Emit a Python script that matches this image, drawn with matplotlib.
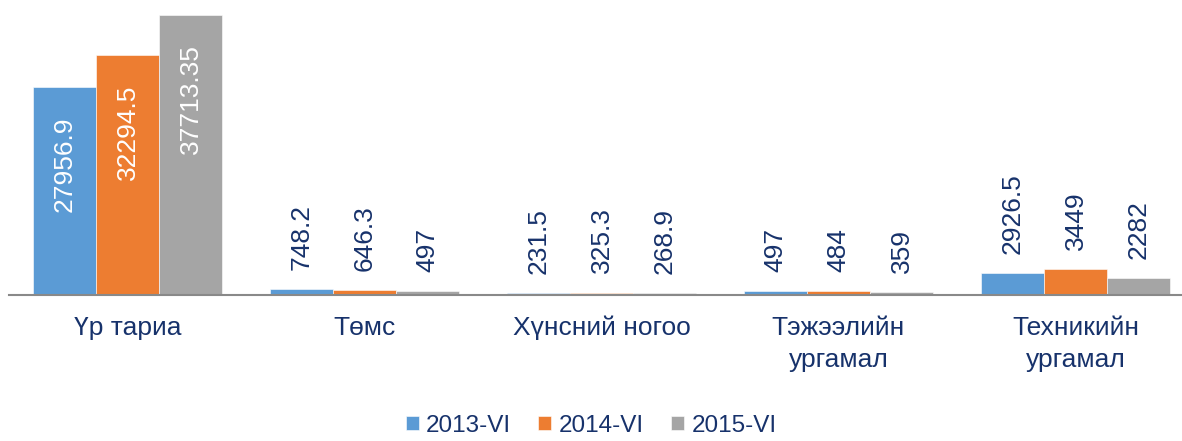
import matplotlib
matplotlib.use("Agg")
import matplotlib.pyplot as plt
import numpy as np

plt.rcParams['font.family'] = ['Liberation Sans', 'DejaVu Sans']

categories = ['Үр тариа', 'Төмс', 'Хүнсний ногоо', 'Тэжээлийн\nургамал', 'Техникийн\nургамал']
series_names = ['2013-VI', '2014-VI', '2015-VI']
v2013 = [27956.9, 748.2, 231.5, 497, 2926.5]
v2014 = [32294.5, 646.3, 325.3, 484, 3449]
v2015 = [37713.35, 497, 268.9, 359, 2282]
labels2013 = ['27956.9', '748.2', '231.5', '497', '2926.5']
labels2014 = ['32294.5', '646.3', '325.3', '484', '3449']
labels2015 = ['37713.35', '497', '268.9', '359', '2282']

colors = ['#5B9BD5', '#ED7D31', '#A5A5A5']
text_color = '#17326B'

fig = plt.figure(figsize=(11.82, 4.41), dpi=100)
ax = fig.add_axes([9 / 1182, 146 / 441, 1185 / 1182, 290 / 441])

x = np.arange(len(categories))
w = 0.266
all_vals = [v2013, v2014, v2015]
all_labels = [labels2013, labels2014, labels2015]
inside_limit = 10000

for i, (vals, labs) in enumerate(zip(all_vals, all_labels)):
    xs = x + (i - 1) * w
    ax.bar(xs, vals, width=w, color=colors[i], label=series_names[i],
           edgecolor='white', linewidth=0.4, zorder=2)
    for xi, v, t in zip(xs, vals, labs):
        if v > inside_limit:
            ax.annotate(t, (xi, v), xytext=(0, -21), textcoords='offset points',
                        rotation=90, ha='center', va='top', color='white',
                        fontsize=19)
        else:
            ax.annotate(t, (xi, v), xytext=(0, 14), textcoords='offset points',
                        rotation=90, ha='center', va='bottom', color=text_color,
                        fontsize=19)

ax.set_xlim(-0.5, len(categories) - 0.5)
ax.set_ylim(0, 37713.35 * 290 / 280)
ax.set_xticks(x)
ax.set_xticklabels(categories, fontsize=19, color=text_color, linespacing=1.45)
ax.tick_params(axis='x', length=0, pad=15)
ax.set_yticks([])
for s in ['top', 'right', 'left']:
    ax.spines[s].set_visible(False)
ax.spines['bottom'].set_color('#898989')
ax.spines['bottom'].set_linewidth(1.5)

leg = fig.legend(loc='lower center', bbox_to_anchor=(0.5, -0.012), ncol=3,
                 frameon=False, fontsize=17.5, handlelength=0.55, handleheight=0.55,
                 handletextpad=0.3, columnspacing=1.1, borderaxespad=0)
for t in leg.get_texts():
    t.set_color(text_color)

fig.savefig('out.png', dpi=100)
